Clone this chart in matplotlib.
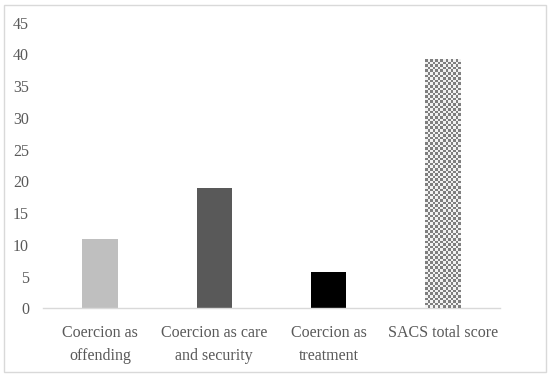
import matplotlib
matplotlib.use("Agg")
import matplotlib.pyplot as plt
from matplotlib.patches import Rectangle
import numpy as np

categories = ["Coercion as\noffending", "Coercion as care\nand security",
              "Coercion as\ntreatment", "SACS total score"]
values = [11.0, 19.0, 5.8, 39.2]
colors = ["#BFBFBF", "#595959", "#000000", "white"]
yticks = [0, 5, 10, 15, 20, 25, 30, 35, 40, 45]

plt.rcParams['font.family'] = ['Liberation Serif', 'DejaVu Serif']

fig = plt.figure(figsize=(5.5, 3.77), dpi=100)
ax = fig.add_axes([0.078, 0.182, 0.831, 0.758])

x = np.arange(len(categories))
bars = ax.bar(x, values, width=0.31, color=colors, zorder=2)

# checkerboard fill for the total score bar
b = bars[3]
nx, ny = 14, 96
checker = (np.indices((ny, nx)).sum(axis=0) % 2).astype(float)
im = ax.imshow(checker, cmap=matplotlib.colors.ListedColormap(["#7F7F7F", "#F2F2F2"]),
               extent=(b.get_x(), b.get_x() + b.get_width(), 0, b.get_height()),
               aspect='auto', interpolation='nearest', zorder=3)
im.set_clip_path(b)

ax.set_xlim(-0.5, len(categories) - 0.5)
ax.set_ylim(0, 45)
ax.set_yticks(yticks)
ax.set_xticks(x)
ax.set_xticklabels(categories, linespacing=1.55)

for s in ['top', 'right', 'left']:
    ax.spines[s].set_visible(False)
ax.spines['bottom'].set_color('#D9D9D9')
ax.spines['bottom'].set_linewidth(1.0)
ax.tick_params(axis='both', length=0, labelsize=11.5, labelcolor='#595959')
ax.tick_params(axis='y', pad=10)
ax.tick_params(axis='x', pad=12)

fig.patches.append(Rectangle((0.007, 0.013), 0.986, 0.975, transform=fig.transFigure,
                             fill=False, edgecolor='#D9D9D9', linewidth=1.0))

fig.savefig("out.png", dpi=100)
